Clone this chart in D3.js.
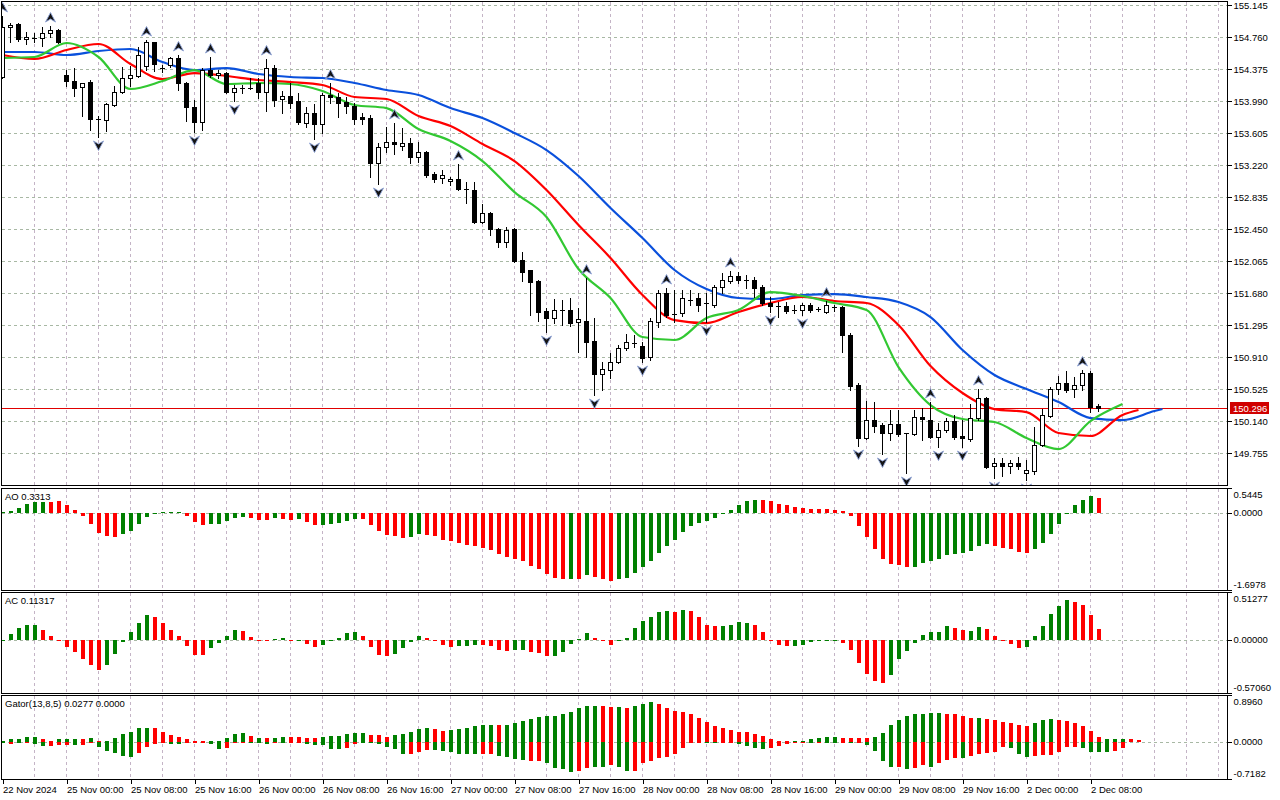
<!DOCTYPE html>
<html>
<head>
<meta charset="utf-8">
<script src="https://cdn.jsdelivr.net/npm/d3@7"></script>
<style>
  html, body { margin: 0; padding: 0; background: #fff; }
  svg { display: block; }
  text { font-family: "Liberation Sans", Arial, sans-serif; font-size: 9.5px; fill: #000; }
</style>
</head>
<body>
<svg id="chartArea" width="1280" height="800"></svg>
<script>

// ---- data (USDJPY H1) ----

// time axis labels and the bar index each one sits on
const timeLabels = ["22 Nov 2024", "25 Nov 00:00", "25 Nov 08:00", "25 Nov 16:00", "26 Nov 00:00",
  "26 Nov 08:00", "26 Nov 16:00", "27 Nov 00:00", "27 Nov 08:00", "27 Nov 16:00", "28 Nov 00:00",
  "28 Nov 08:00", "28 Nov 16:00", "29 Nov 00:00", "29 Nov 08:00", "29 Nov 16:00", "2 Dec 00:00", "2 Dec 08:00"];
const timeLabelBars = [0, 8, 16, 24, 32, 40, 48, 56, 64, 72, 80, 88, 96, 104, 112, 120, 128, 136];

// price axis ticks
const priceTicks = [155.145, 154.760, 154.375, 153.990, 153.605, 153.220, 152.835, 152.450,
  152.065, 151.680, 151.295, 150.910, 150.525, 150.140, 149.755];
const lastPrice = 150.296;

const opens = [154.279, 154.88, 154.916, 154.736, 154.748, 154.748, 154.808, 154.844, 154.303, 154.231,
  154.159, 154.219, 153.774, 153.762, 153.943, 154.099, 154.267, 154.291, 154.411, 154.7,
  154.387, 154.423, 154.508, 154.207, 153.918, 153.738, 154.363, 154.303, 154.327, 154.099,
  154.147, 154.147, 154.207, 154.099, 154.387, 154.015, 154.051, 153.991, 153.726, 153.846,
  153.714, 154.063, 154.039, 153.979, 153.93, 153.798, 153.786, 153.245, 153.438, 153.498,
  153.45, 153.486, 153.317, 153.377, 153.113, 153.065, 153.029, 153.053, 152.933, 152.921,
  152.536, 152.644, 152.452, 152.295, 152.452, 152.079, 151.959, 151.826, 151.466, 151.381,
  151.478, 151.478, 151.333, 151.345, 151.105, 150.708, 150.756, 150.852, 151.021, 151.081,
  151.045, 150.913, 151.333, 151.682, 151.43, 151.442, 151.598, 151.622, 151.562, 151.538,
  151.754, 151.826, 151.886, 151.838, 151.838, 151.754, 151.562, 151.526, 151.526, 151.478,
  151.478, 151.538, 151.49, 151.454, 151.514, 151.514, 151.177, 150.576, 149.939, 150.155,
  150.095, 149.999, 150.107, 149.999, 149.987, 150.191, 150.155, 149.951, 150.035, 150.143,
  149.963, 149.927, 150.179, 150.419, 149.602, 149.638, 149.602, 149.638, 149.518, 149.542,
  149.854, 150.203, 150.528, 150.6, 150.528, 150.576, 150.72, 150.323];
const highs = [155.013, 154.928, 154.928, 154.82, 154.808, 154.88, 154.892, 154.856, 154.363, 154.387,
  154.207, 154.243, 153.81, 153.967, 154.171, 154.399, 154.411, 154.64, 154.724, 154.7,
  154.423, 154.52, 154.544, 154.219, 154.003, 154.387, 154.52, 154.363, 154.339, 154.183,
  154.183, 154.267, 154.267, 154.496, 154.423, 154.111, 154.207, 154.087, 153.918, 153.955,
  154.087, 154.207, 154.087, 154.039, 153.967, 153.846, 153.822, 153.486, 153.678, 153.726,
  153.666, 153.546, 153.498, 153.389, 153.137, 153.161, 153.077, 153.233, 153.017, 153.017,
  152.752, 152.656, 152.464, 152.476, 152.464, 152.175, 151.959, 151.838, 151.502, 151.61,
  151.598, 151.622, 151.502, 151.862, 151.381, 150.852, 150.961, 151.057, 151.189, 151.177,
  151.093, 151.381, 151.718, 151.742, 151.718, 151.718, 151.718, 151.682, 151.682, 151.778,
  151.923, 151.947, 151.935, 151.898, 151.874, 151.778, 151.634, 151.574, 151.574, 151.538,
  151.562, 151.562, 151.514, 151.586, 151.538, 151.526, 151.201, 150.6, 150.383, 150.371,
  150.119, 150.275, 150.275, 149.999, 150.275, 150.299, 150.371, 150.119, 150.179, 150.215,
  150.155, 150.347, 150.528, 150.432, 149.698, 149.698, 149.674, 149.71, 149.674, 150.071,
  150.287, 150.552, 150.684, 150.744, 150.672, 150.756, 150.744, 150.347];
const lows = [154.267, 154.7, 154.712, 154.676, 154.7, 154.652, 154.76, 154.688, 154.171, 154.051,
  153.81, 153.642, 153.558, 153.63, 153.93, 154.087, 154.171, 154.279, 154.363, 154.351,
  154.339, 154.399, 154.123, 153.75, 153.618, 153.642, 154.279, 154.267, 154.087, 153.991,
  154.087, 154.135, 154.027, 153.87, 153.93, 153.846, 153.906, 153.714, 153.678, 153.534,
  153.606, 153.967, 153.798, 153.846, 153.714, 153.714, 153.077, 152.993, 153.377, 153.353,
  153.401, 153.245, 153.257, 153.077, 153.017, 153.005, 152.981, 152.921, 152.764, 152.524,
  152.524, 152.379, 152.235, 152.235, 152.055, 151.826, 151.418, 151.345, 151.213, 151.321,
  151.297, 151.285, 150.973, 150.913, 150.456, 150.516, 150.66, 150.84, 150.997, 151.033,
  150.852, 150.876, 151.273, 151.393, 151.333, 151.405, 151.538, 151.466, 151.333, 151.514,
  151.682, 151.802, 151.802, 151.742, 151.634, 151.538, 151.454, 151.393, 151.442, 151.442,
  151.418, 151.454, 151.466, 151.442, 151.466, 150.973, 150.516, 149.842, 149.927, 150.011,
  149.746, 149.914, 149.963, 149.518, 149.975, 149.914, 149.939, 149.83, 150.011, 149.927,
  149.83, 149.902, 150.155, 149.578, 149.458, 149.482, 149.518, 149.566, 149.434, 149.506,
  149.842, 150.191, 150.468, 150.492, 150.432, 150.516, 150.251, 150.263];
const closes = [154.88, 154.904, 154.736, 154.76, 154.748, 154.808, 154.844, 154.7, 154.231, 154.147,
  154.207, 153.774, 153.774, 153.955, 154.099, 154.267, 154.303, 154.544, 154.7, 154.435,
  154.387, 154.508, 154.207, 153.918, 153.738, 154.363, 154.303, 154.327, 154.099, 154.147,
  154.147, 154.147, 154.099, 154.387, 154.003, 154.051, 153.967, 153.738, 153.846, 153.714,
  154.063, 154.039, 153.967, 153.93, 153.774, 153.774, 153.245, 153.438, 153.498, 153.474,
  153.486, 153.317, 153.377, 153.101, 153.053, 153.101, 153.053, 152.933, 152.933, 152.536,
  152.644, 152.452, 152.295, 152.44, 152.067, 151.935, 151.814, 151.454, 151.381, 151.478,
  151.478, 151.321, 151.369, 151.093, 150.708, 150.768, 150.852, 151.021, 151.093, 151.081,
  150.9, 151.345, 151.682, 151.418, 151.43, 151.622, 151.598, 151.538, 151.562, 151.754,
  151.838, 151.886, 151.838, 151.838, 151.742, 151.562, 151.526, 151.526, 151.466, 151.478,
  151.538, 151.478, 151.49, 151.538, 151.514, 151.177, 150.564, 149.939, 150.155, 150.083,
  149.999, 150.107, 149.987, 149.999, 150.191, 150.167, 149.951, 150.035, 150.143, 149.951,
  149.939, 150.179, 150.419, 149.59, 149.638, 149.602, 149.638, 149.602, 149.554, 149.854,
  150.215, 150.528, 150.6, 150.516, 150.576, 150.72, 150.311, 150.296];

// fractal bars
const fractalUp = [0, 6, 18, 22, 26, 33, 41, 49, 57, 73, 83, 91, 103, 116, 122, 135];
const fractalDown = [12, 24, 29, 39, 47, 68, 74, 80, 88, 96, 100, 107, 110, 113, 117, 120, 124, 128];

// alligator lines, one value every 4 bars (the last one sits on the line's end bar)
const alligatorStep = 4;
const jawVals = [154.58, 154.58, 154.544, 154.592, 154.616, 154.459, 154.363, 154.387, 154.315, 154.279,
  154.267, 154.207, 154.123, 154.063, 153.906, 153.786, 153.606, 153.401, 153.089, 152.704,
  152.343, 151.959, 151.73, 151.622, 151.61, 151.658, 151.67, 151.634, 151.574, 151.393,
  150.997, 150.696, 150.528, 150.371, 150.179, 150.155, 150.263, 150.287];
const teethVals = [154.544, 154.496, 154.604, 154.676, 154.435, 154.255, 154.327, 154.291, 154.243, 154.219,
  154.183, 154.039, 154.015, 153.81, 153.69, 153.474, 153.269, 152.921, 152.5, 152.103,
  151.658, 151.357, 151.321, 151.454, 151.562, 151.634, 151.586, 151.562, 151.297, 150.804,
  150.48, 150.287, 150.251, 149.999, 149.963, 150.215, 150.275];
const lipsVals = [154.508, 154.52, 154.688, 154.52, 154.135, 154.231, 154.363, 154.195, 154.207, 154.195,
  154.111, 153.943, 153.906, 153.654, 153.51, 153.269, 152.896, 152.596, 151.971, 151.622,
  151.153, 151.117, 151.381, 151.478, 151.694, 151.646, 151.562, 151.478, 150.792, 150.335,
  150.167, 150.131, 149.939, 149.806, 150.143, 150.347];
const jawEnd = 145, teethEnd = 142, lipsEnd = 140;

// Awesome Oscillator
const aoRange = [-1.6978, 0.5445];
const aoVals = [0.01, 0.036, 0.109, 0.182, 0.226, 0.228, 0.233, 0.248, 0.16, 0.051,
  -0.066, -0.24, -0.444, -0.51, -0.531, -0.473, -0.408, -0.248, -0.095, -0.004,
  0.007, 0.022, 0.022, -0.073, -0.204, -0.269, -0.248, -0.248, -0.182, -0.109,
  -0.095, -0.109, -0.16, -0.153, -0.116, -0.131, -0.153, -0.146, -0.204, -0.269,
  -0.262, -0.248, -0.226, -0.182, -0.138, -0.131, -0.262, -0.4, -0.48, -0.502,
  -0.546, -0.531, -0.466, -0.48, -0.517, -0.604, -0.626, -0.662, -0.699, -0.721,
  -0.779, -0.823, -0.903, -0.968, -1.019, -1.063, -1.165, -1.238, -1.347, -1.427,
  -1.463, -1.449, -1.449, -1.369, -1.405, -1.449, -1.492, -1.463, -1.427, -1.318,
  -1.187, -1.063, -0.881, -0.728, -0.604, -0.422, -0.291, -0.226, -0.182, -0.116,
  -0.022, 0.066, 0.16, 0.248, 0.291, 0.285, 0.255, 0.182, 0.16, 0.124,
  0.095, 0.093, 0.091, 0.073, 0.071, 0.029, -0.073, -0.291, -0.531, -0.801,
  -1.019, -1.136, -1.15, -1.187, -1.185, -1.114, -1.056, -1.026, -0.932, -0.91,
  -0.881, -0.837, -0.728, -0.692, -0.728, -0.764, -0.801, -0.859, -0.881, -0.801,
  -0.662, -0.473, -0.255, -0.022, 0.16, 0.291, 0.364, 0.331];
const aoColors = "GGGGGGRRRR" + "RRRRRGGGGG" + "GGGRRRGGGG" + "GRRRGRRGRR" + "GGGGGRRRRR" +
  "RGGRRRRRRR" + "RRRRRRRRRR" + "RGRGRRRGGG" + "GGGGGGGGGG" + "GGGGGRRRRR" +
  "RRRRRRRRRR" + "RRRRGGGGGG" + "GGGGRRRRRG" + "GGGGGGGR";

// Accelerator Oscillator
const acRange = [-0.5706, 0.51277];
const acVals = [0, 0.064, 0.129, 0.154, 0.154, 0.1, 0.046, -0.002, -0.079, -0.132,
  -0.204, -0.272, -0.329, -0.265, -0.157, -0.025, 0.086, 0.182, 0.261, 0.243,
  0.175, 0.104, 0.046, -0.068, -0.161, -0.168, -0.093, -0.039, 0.046, 0.1,
  0.098, 0.032, -0.004, -0.014, 0.011, 0.014, -0.001, 0.001, -0.043, -0.079,
  -0.061, 0.002, 0.021, 0.068, 0.079, 0.043, -0.079, -0.168, -0.179, -0.147,
  -0.089, -0.025, 0.046, 0.021, -0.014, -0.061, -0.079, -0.068, -0.066, -0.057,
  -0.061, -0.068, -0.114, -0.125, -0.114, -0.112, -0.132, -0.139, -0.175, -0.173,
  -0.132, -0.043, 0.004, 0.068, 0.021, -0.014, -0.061, -0.014, 0.021, 0.122,
  0.2, 0.243, 0.297, 0.304, 0.297, 0.315, 0.304, 0.247, 0.164, 0.147,
  0.149, 0.164, 0.189, 0.182, 0.154, 0.089, -0.002, -0.061, -0.068, -0.066,
  -0.054, -0.021, -0.014, -0.002, -0.001, -0.032, -0.111, -0.25, -0.365, -0.443,
  -0.465, -0.379, -0.204, -0.122, -0.032, 0.05, 0.079, 0.081, 0.147, 0.122,
  0.1, 0.093, 0.132, 0.111, 0.046, -0.002, -0.046, -0.086, -0.079, 0.036,
  0.147, 0.272, 0.361, 0.422, 0.408, 0.368, 0.261, 0.113];
const acColors = "GGGGGRRRRR" + "RRRGGGGGGR" + "RRRRRRGGGG" + "RRRRGGRGRR" + "GGGGGRRRRG" +
  "GGGRRRRGGG" + "RRRRGGRRRG" + "GGGGRRRGGG" + "GGGGRGRRRR" + "GGGGRRRRRG" +
  "GGGGGRRRRR" + "RGGGGGGGGR" + "RGGRRRRRGG" + "GGGGRRRR";

// Gator Oscillator (13,8,5)
const gatorRange = [-0.7182, 0.8960];
const gatorUp = [0.019, 0.058, 0.06, 0.096, 0.097, 0.051, 0.013, 0.051, 0.052, 0.053,
  0.05, 0.077, 0.013, 0.019, 0.077, 0.154, 0.192, 0.256, 0.269, 0.256,
  0.192, 0.128, 0.096, 0.045, 0.019, 0.003, 0.004, 0.005, 0.077, 0.154,
  0.173, 0.115, 0.077, 0.07, 0.077, 0.096, 0.083, 0.083, 0.077, 0.077,
  0.096, 0.109, 0.109, 0.154, 0.173, 0.173, 0.128, 0.122, 0.096, 0.122,
  0.141, 0.192, 0.237, 0.269, 0.25, 0.205, 0.224, 0.237, 0.269, 0.295,
  0.314, 0.327, 0.327, 0.327, 0.365, 0.391, 0.429, 0.468, 0.487, 0.5,
  0.525, 0.577, 0.641, 0.692, 0.692, 0.692, 0.673, 0.673, 0.653, 0.692,
  0.73, 0.769, 0.73, 0.653, 0.596, 0.577, 0.538, 0.461, 0.384, 0.307,
  0.269, 0.231, 0.192, 0.19, 0.154, 0.115, 0.058, 0.019, 0.003, 0.019,
  0.02, 0.058, 0.077, 0.096, 0.097, 0.077, 0.076, 0.075, 0.074, 0.096,
  0.173, 0.327, 0.423, 0.5, 0.538, 0.54, 0.541, 0.557, 0.538, 0.535,
  0.5, 0.461, 0.461, 0.442, 0.423, 0.384, 0.365, 0.327, 0.307, 0.365,
  0.423, 0.442, 0.423, 0.404, 0.365, 0.307, 0.211, 0.096, 0.045, 0.05,
  0.058, 0.055, 0.028];
const gatorUpColors = "GGGGGRRGGG" + "RGRGGGGGGR" + "RRRRRRGGGG" + "GRGRGGRRRR" + "GGGGGGRRRG" +
  "GGGGRRGGGG" + "GGRGGGGGGG" + "GGGGGRRGRG" + "GGRRRRRRRR" + "RRRRRRRRRG" +
  "GGGGGRRRRG" + "GGGGGGGGRR" + "RRGRRRRRRG" + "GGRRRRRRGG" + "GRR";
const gatorDown = [-0.01, -0.038, -0.032, -0.005, -0.051, -0.09, -0.089, -0.07, -0.069, -0.072,
  -0.07, -0.013, -0.109, -0.173, -0.211, -0.282, -0.301, -0.211, -0.109, -0.051,
  -0.013, -0.045, -0.051, -0.019, -0.013, -0.006, -0.051, -0.147, -0.128, -0.032,
  -0.013, -0.015, -0.032, -0.051, -0.032, -0.034, -0.013, -0.012, -0.051, -0.064,
  -0.07, -0.135, -0.141, -0.115, -0.051, -0.032, -0.034, -0.045, -0.096, -0.147,
  -0.243, -0.231, -0.199, -0.16, -0.167, -0.179, -0.199, -0.231, -0.243, -0.245,
  -0.231, -0.243, -0.282, -0.295, -0.34, -0.359, -0.378, -0.378, -0.416, -0.5,
  -0.532, -0.577, -0.557, -0.5, -0.48, -0.482, -0.442, -0.48, -0.557, -0.555,
  -0.416, -0.365, -0.307, -0.288, -0.243, -0.128, -0.013, -0.002, -0.006, -0.032,
  -0.03, -0.006, -0.051, -0.09, -0.128, -0.147, -0.128, -0.09, -0.051, -0.006,
  -0.002, -0.013, -0.006, -0.007, -0.013, -0.006, -0.013, -0.006, -0.07, -0.186,
  -0.365, -0.48, -0.478, -0.519, -0.5, -0.442, -0.48, -0.404, -0.346, -0.307,
  -0.31, -0.269, -0.243, -0.211, -0.192, -0.096, -0.115, -0.231, -0.288, -0.269,
  -0.25, -0.248, -0.192, -0.096, -0.095, -0.128, -0.192, -0.193, -0.194, -0.173,
  -0.115];
const gatorDownColors = "GRGRGGRRRG" + "RRGGGGGRRR" + "RGGRRRGGRR" + "RGGGRGRRGG" + "GGGRRGGGGG" +
  "GRRRGGGGGG" + "RRGGGGRRGG" + "GGRRGGRGGR" + "RRRRRRRRGG" + "RRGGGGRRRR" +
  "RGRGGRGRGG" + "GGRGRRGRRR" + "GRRRRRGGGR" + "RRRRRGGGGR" + "R";

const paneTitles = ["AO 0.3313", "AC 0.11317", "Gator(13,8,5) 0.0277 0.0000"];


// ---- layout ----

let svg = d3.select("#chartArea");
const plotLeft = 1;
const plotRight = 1227;
const panes = {
  main:  {top: 1,   bottom: 485},
  ao:    {top: 488, bottom: 590},
  ac:    {top: 592, bottom: 693},
  gator: {top: 695, bottom: 779}
};
const GREEN = "#008000";
const RED = "#ff0000";
const colorOf = c => (c === "G" ? GREEN : RED);

// one bar every 8 px
const x = d3.scaleLinear().domain([0, 137]).range([2, 1098]);
const yPrice = d3.scaleLinear().domain([149.755, 155.145]).range([453.3, 5]);
const yAO = d3.scaleLinear().domain(aoRange).range([panes.ao.bottom, panes.ao.top]);
const yAC = d3.scaleLinear().domain(acRange).range([panes.ac.bottom, panes.ac.top]);
const yGator = d3.scaleLinear().domain(gatorRange).range([panes.gator.bottom, panes.gator.top]);

/* clip path for a pane */
function addClip(id, p) {
  svg.append("clipPath").attr("id", id)
    .append("rect")
    .attr("x", plotLeft + 1).attr("y", p.top + 1)
    .attr("width", plotRight - plotLeft - 1).attr("height", p.bottom - p.top - 1);
}
addClip("clipMain", panes.main);
addClip("clipAO", panes.ao);
addClip("clipAC", panes.ac);
addClip("clipGator", panes.gator);

/* vertical dashed grid, every 4 bars */
function drawVGrid(p) {
  let bars = d3.range(4, 160, 4).filter(b => x(b) < plotRight - 2);
  svg.append("g")
    .selectAll("line").data(bars).join("line")
    .attr("x1", b => x(b) + 0.5).attr("x2", b => x(b) + 0.5)
    .attr("y1", p.top + 1).attr("y2", p.bottom)
    .attr("stroke", "#c4b4c6")
    .attr("stroke-dasharray", "3,3")
    .attr("shape-rendering", "crispEdges");
}

/* horizontal dashed grid line(s) */
function drawHGrid(yScale, values, p) {
  svg.append("g")
    .selectAll("line").data(values).join("line")
    .attr("x1", plotLeft + 1).attr("x2", plotRight)
    .attr("y1", d => Math.round(yScale(d)) + 0.5)
    .attr("y2", d => Math.round(yScale(d)) + 0.5)
    .attr("stroke", "#a8b8a4")
    .attr("stroke-dasharray", "3,3")
    .attr("shape-rendering", "crispEdges");
}

/* pane frame */
function drawFrame(p) {
  svg.append("rect")
    .attr("x", plotLeft + 0.5).attr("y", p.top + 0.5)
    .attr("width", plotRight - plotLeft).attr("height", p.bottom - p.top)
    .attr("fill", "none")
    .attr("stroke", "#000")
    .attr("shape-rendering", "crispEdges");
}

/* right axis for an indicator pane: max, zero, min */
function drawIndicatorAxis(yScale, range, fmt, p) {
  let g = svg.append("g")
    .attr("transform", `translate(${plotRight + 0.5},0)`)
    .call(d3.axisRight(yScale)
      .tickValues([range[1], 0, range[0]])
      .tickSize(4).tickPadding(2)
      .tickFormat(d3.format(fmt)));
  g.select(".domain").remove();
  g.selectAll(".tick line").attr("stroke", "#000").attr("shape-rendering", "crispEdges");
  g.selectAll(".tick text")
    .attr("font-family", null).attr("font-size", null)
    .attr("dy", (d, i) => (i === 0 ? "0.95em" : (i === 2 ? "-0.25em" : "0.32em")));
  // a plain minus sign as on the terminal
  g.selectAll(".tick text").text(function () { return this.textContent.replace("−", "-"); });
}


// ---- grid ----
drawVGrid(panes.main);
drawVGrid(panes.ao);
drawVGrid(panes.ac);
drawVGrid(panes.gator);
drawHGrid(yPrice, priceTicks, panes.main);
drawHGrid(yAO, [0], panes.ao);
drawHGrid(yAC, [0], panes.ac);
drawHGrid(yGator, [0], panes.gator);


// ---- main pane: alligator, candles, fractals ----
let mainG = svg.append("g").attr("clip-path", "url(#clipMain)");

// last price line
mainG.append("line")
  .attr("x1", plotLeft).attr("x2", plotRight)
  .attr("y1", Math.round(yPrice(lastPrice)) + 0.5)
  .attr("y2", Math.round(yPrice(lastPrice)) + 0.5)
  .attr("stroke", "#e00000")
  .attr("shape-rendering", "crispEdges");

/* alligator line from values sampled every alligatorStep bars */
function drawAlligator(vals, endBar, color) {
  let pts = vals.map((v, k) => [Math.min(k * alligatorStep, endBar), v]);
  mainG.append("path")
    .datum(pts)
    .attr("d", d3.line()
      .x(d => x(d[0]) + 0.5)
      .y(d => yPrice(d[1]))
      .curve(d3.curveMonotoneX))
    .attr("fill", "none")
    .attr("stroke", color)
    .attr("stroke-width", 2.2);
}
drawAlligator(jawVals, jawEnd, "#0a50dc");
drawAlligator(teethVals, teethEnd, "#ff0000");
drawAlligator(lipsVals, lipsEnd, "#32c832");

// candles
let candles = d3.range(opens.length).map(i => ({
  i: i, o: opens[i], h: highs[i], l: lows[i], c: closes[i]
}));
let candleG = mainG.append("g").attr("shape-rendering", "crispEdges");
candleG.selectAll("line.wick").data(candles).join("line")
  .attr("class", "wick")
  .attr("x1", d => x(d.i) + 0.5).attr("x2", d => x(d.i) + 0.5)
  .attr("y1", d => Math.round(yPrice(d.h)))
  .attr("y2", d => Math.round(yPrice(d.l)) + 1)
  .attr("stroke", "#000");
candleG.selectAll("rect.body").data(candles.filter(d => Math.abs(yPrice(d.o) - yPrice(d.c)) >= 1.5)).join("rect")
  .attr("class", "body")
  .attr("x", d => x(d.i) - 1.5)
  .attr("y", d => Math.round(yPrice(Math.max(d.o, d.c))) + 0.5)
  .attr("width", 4)
  .attr("height", d => Math.round(yPrice(Math.min(d.o, d.c))) - Math.round(yPrice(Math.max(d.o, d.c))))
  .attr("fill", d => (d.c >= d.o ? "#fff" : "#000"))
  .attr("stroke", "#000");
candleG.selectAll("line.doji").data(candles.filter(d => Math.abs(yPrice(d.o) - yPrice(d.c)) < 1.5)).join("line")
  .attr("class", "doji")
  .attr("x1", d => x(d.i) - 2).attr("x2", d => x(d.i) + 3)
  .attr("y1", d => Math.round(yPrice(d.c)) + 0.5)
  .attr("y2", d => Math.round(yPrice(d.c)) + 0.5)
  .attr("stroke", "#000");

// fractal arrows
const upArrow = "M0,-5 L5,4.5 L0,1.5 L-5,4.5 Z";
const downArrow = "M0,5 L5,-4.5 L0,-1.5 L-5,-4.5 Z";
mainG.append("g").selectAll("path").data(fractalUp).join("path")
  .attr("d", upArrow)
  .attr("transform", i => `translate(${x(i) + 0.5},${yPrice(highs[i]) - 8.5})`)
  .attr("fill", "#141414")
  .attr("stroke", "#8fa4d8")
  .attr("stroke-width", 0.9);
mainG.append("g").selectAll("path").data(fractalDown).join("path")
  .attr("d", downArrow)
  .attr("transform", i => `translate(${x(i) + 0.5},${yPrice(lows[i]) + 8.5})`)
  .attr("fill", "#141414")
  .attr("stroke", "#8fa4d8")
  .attr("stroke-width", 0.9);


// ---- indicator histograms ----

/* histogram bars from zero */
function drawHistogram(vals, colors, yScale, clipId) {
  svg.append("g")
    .attr("clip-path", `url(#${clipId})`)
    .attr("shape-rendering", "crispEdges")
    .selectAll("rect").data(vals).join("rect")
    .attr("x", (v, i) => x(i) - 1)
    .attr("width", 4)
    .attr("y", v => Math.round(yScale(Math.max(v, 0))))
    .attr("height", v => Math.max(1, Math.abs(Math.round(yScale(v)) - Math.round(yScale(0)))))
    .attr("fill", (v, i) => colorOf(colors[i]));
}
drawHistogram(aoVals, aoColors, yAO, "clipAO");
drawHistogram(acVals, acColors, yAC, "clipAC");
drawHistogram(gatorUp, gatorUpColors, yGator, "clipGator");
drawHistogram(gatorDown, gatorDownColors, yGator, "clipGator");


// ---- frames ----
drawFrame(panes.main);
drawFrame(panes.ao);
drawFrame(panes.ac);
drawFrame(panes.gator);


// ---- axes ----

// price axis
let priceAxis = svg.append("g")
  .attr("transform", `translate(${plotRight + 0.5},0)`)
  .call(d3.axisRight(yPrice)
    .tickValues(priceTicks)
    .tickSize(4).tickPadding(2)
    .tickFormat(d3.format(".3f")));
priceAxis.select(".domain").remove();
priceAxis.selectAll(".tick line").attr("stroke", "#000").attr("shape-rendering", "crispEdges");
priceAxis.selectAll(".tick text").attr("font-family", null).attr("font-size", null);

// last price tag
let tagY = Math.round(yPrice(lastPrice));
svg.append("rect")
  .attr("x", plotRight + 3).attr("y", tagY - 6)
  .attr("width", 39).attr("height", 12)
  .attr("fill", "#d00000");
svg.append("text")
  .attr("x", plotRight + 6).attr("y", tagY + 4)
  .style("fill", "#fff")
  .text(d3.format(".3f")(lastPrice));

drawIndicatorAxis(yAO, aoRange, ".4f", panes.ao);
drawIndicatorAxis(yAC, acRange, ".5f", panes.ac);
drawIndicatorAxis(yGator, gatorRange, ".4f", panes.gator);

// time axis
let timeAxis = svg.append("g")
  .attr("transform", `translate(0.5,${panes.gator.bottom + 0.5})`)
  .call(d3.axisBottom(x)
    .tickValues(timeLabelBars)
    .tickSize(4).tickPadding(3)
    .tickFormat((d, i) => timeLabels[i]));
timeAxis.select(".domain").remove();
timeAxis.selectAll(".tick line").attr("stroke", "#000").attr("shape-rendering", "crispEdges");
timeAxis.selectAll(".tick text")
  .attr("font-family", null).attr("font-size", null)
  .attr("text-anchor", "start");

// pane titles
[panes.ao, panes.ac, panes.gator].forEach((p, k) => {
  svg.append("text")
    .attr("x", 5).attr("y", p.top + 12)
    .text(paneTitles[k]);
});

</script>
</body>
</html>
